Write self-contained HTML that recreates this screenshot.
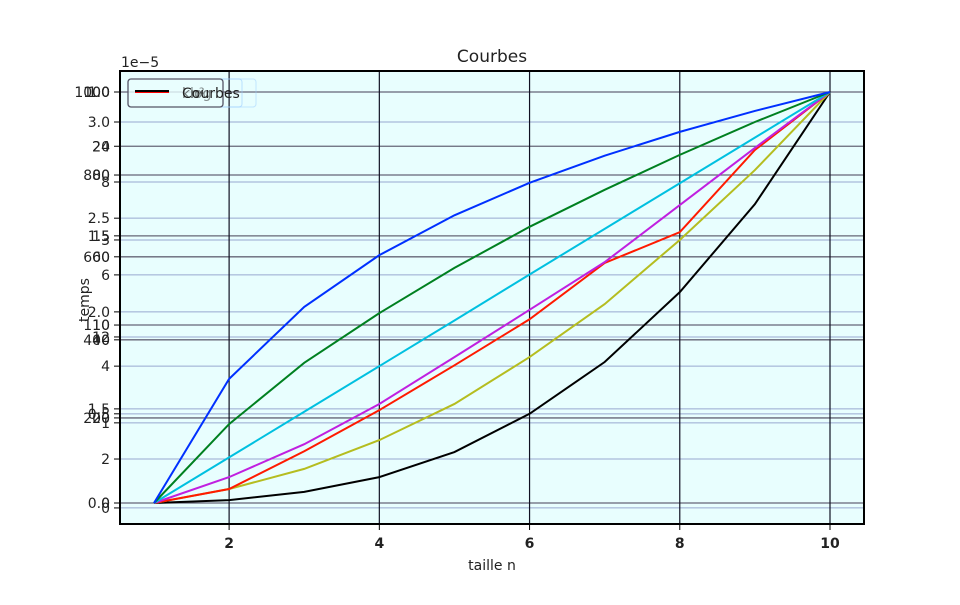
<!DOCTYPE html>
<html><head><meta charset="utf-8"><style>
body{margin:0;background:#fff;}
svg text{font-family:"DejaVu Sans","Liberation Sans",sans-serif;fill:#222;}
</style></head><body>
<svg id="c" width="960" height="600" xmlns="http://www.w3.org/2000/svg">
<rect x="120" y="71" width="744" height="453" fill="#e8fefe"/>
<g id="grid"></g>
<g id="series"></g>
<rect x="120" y="71" width="744" height="453" fill="none" stroke="#000" stroke-width="2"/>
<g id="ticks"></g>
<text x="492" y="62" font-size="17" text-anchor="middle">Courbes</text>
<text x="492" y="570" font-size="14" text-anchor="middle">taille n</text>
<text x="0" y="0" font-size="14" text-anchor="middle" transform="translate(89,300) rotate(-90)">temps</text>
<text x="121" y="67" font-size="14">1e−5</text>
<g>
<rect x="128" y="79" width="128" height="28" rx="3" fill="none" stroke="#9cf" stroke-opacity="0.5"/>
<rect x="128" y="79" width="114" height="28" rx="3" fill="none" stroke="#9cf" stroke-opacity="0.6"/>
<rect x="128" y="79" width="95" height="28" rx="3" fill="#e8fefe" fill-opacity="0.8" stroke="#556" stroke-width="1.3"/>
<line x1="135" y1="92" x2="169" y2="92" stroke="#f00" stroke-width="2"/>
<line x1="135" y1="91" x2="169" y2="91" stroke="#000" stroke-width="2"/>
<text x="182" y="98" font-size="14">Courbes</text>
<text x="182" y="98" font-size="14" opacity="0.6">kn²</text>
<text x="190" y="98" font-size="14" opacity="0.5">log</text>
</g>
</svg>
<script>
const xs=[1,2,3,4,5,6,7,8,9,10];
const blue=[0,0.302,0.477,0.603,0.7,0.779,0.845,0.903,0.954,1];
const green=[0,0.192,0.341,0.462,0.572,0.672,0.762,0.847,0.927,1];
const cyan=[0,0.111,0.222,0.333,0.444,0.556,0.667,0.778,0.889,1];
const purple=[0,0.063,0.143,0.241,0.355,0.470,0.586,0.725,0.864,1];
const red=[0,0.034,0.126,0.226,0.335,0.447,0.584,0.659,0.859,1];
const olive=[0,0.034,0.083,0.153,0.241,0.355,0.484,0.640,0.810,1];
const black=[0,0.007,0.027,0.063,0.124,0.217,0.343,0.513,0.727,1];
const xTicks=[2,4,6,8,10];
const yTickLabels=[["1000","100","1.0"],["3.0"],["20","24"],["800","80"],["8"],["2.5"],["15","1.5"],["3"],["600","60"],["6"],["2.0"],["10","110"],["12"],["400","40"],["4"],["1.5"],["0.5"],["200","20"],["1"],["2"],["0.0","0"],["0"]];
const yTickVals=[1,0.927,0.868,0.798,0.781,0.693,0.650,0.640,0.599,0.555,0.465,0.433,0.404,0.397,0.333,0.229,0.217,0.207,0.195,0.107,0,-0.012];
const X=v=>154+(v-1)*(830-154)/9;
const Y=v=>503-v*411;
const NS="http://www.w3.org/2000/svg";
const grid=document.getElementById('grid'),ticks=document.getElementById('ticks'),ser=document.getElementById('series');
function mk(tag,attrs,parent){const e=document.createElementNS(NS,tag);for(const k in attrs)e.setAttribute(k,attrs[k]);parent.appendChild(e);return e;}
yTickVals.forEach((v,i)=>{
  const y=Y(v);const dark=yTickLabels[i].length>1;
  const l=mk('line',{x1:120,x2:864,y1:y,y2:y,stroke:dark?'#667':'#99a8d0','stroke-width':dark?1.3:1},grid);
  
  
  mk('line',{x1:114,x2:120,y1:y,y2:y,stroke:'#000'},ticks);
  yTickLabels[i].forEach(s=>{
    const t=mk('text',{x:110,y:y+5,'font-size':14,'text-anchor':'end'},ticks);
    t.textContent=s;
    
    
  });
});
xTicks.forEach(v=>{
  const x=X(v);
  const l=mk('line',{x1:x,x2:x,y1:71,y2:524,stroke:'#112',"stroke-width":1.2},grid);
  
  
  mk('line',{x1:x,x2:x,y1:524,y2:530,stroke:'#000'},ticks);
  const t=mk('text',{x:x,y:548,'font-size':14,'text-anchor':'middle','font-weight':'bold'},ticks);
  t.textContent=v;
  
  
});
const series=[[black,'#000','black'],[olive,'#b5bd20','olive'],[red,'#ff1a00','red'],[purple,'#c020e0','purple'],[cyan,'#00c0e0','cyan'],[green,'#008020','green'],[blue,'#0030ff','blue']];
series.forEach(([d,c,n])=>{
  const p=mk('polyline',{points:d.map((v,i)=>X(xs[i])+','+Y(v)).join(' '),fill:'none',stroke:c,'stroke-width':2},ser);
  
  
});
</script>
</body></html>
